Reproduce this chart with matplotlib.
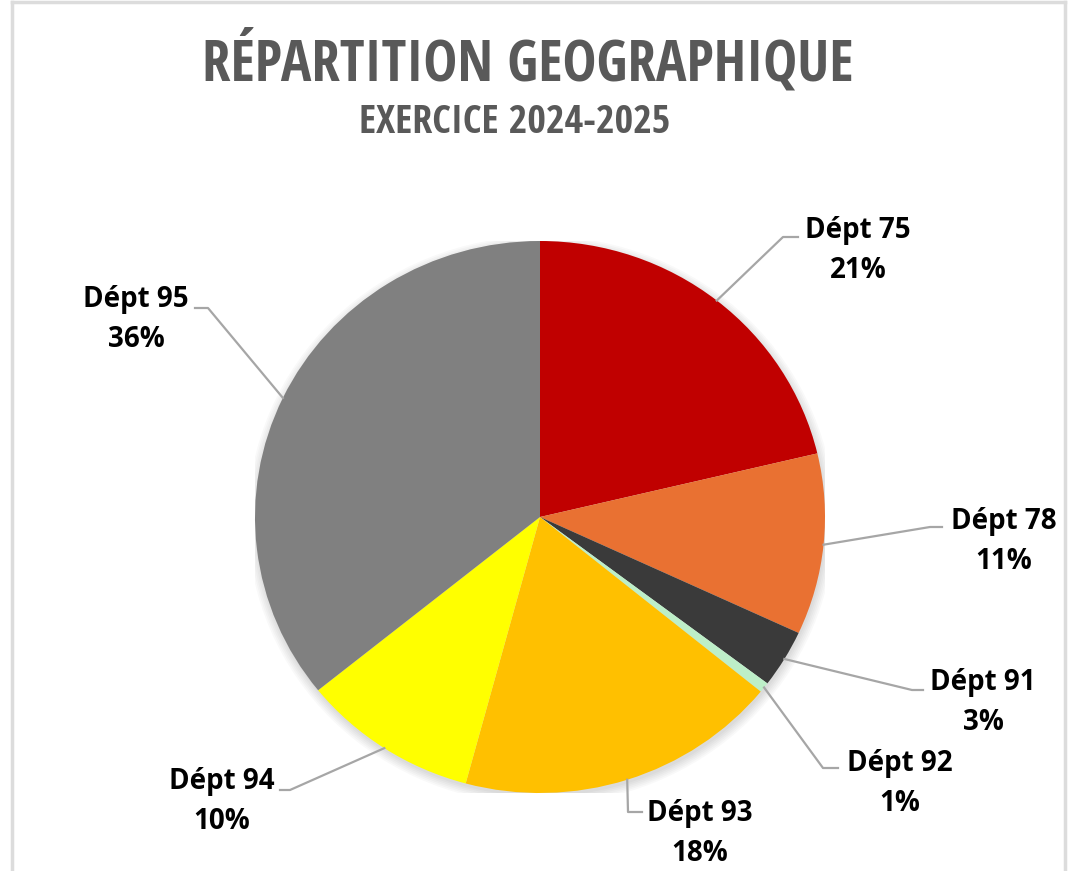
import numpy as np
import matplotlib.pyplot as plt
from matplotlib.lines import Line2D
from matplotlib.patches import Ellipse

# data
departements = ["Dépt 75", "Dépt 78", "Dépt 91", "Dépt 92", "Dépt 93", "Dépt 94", "Dépt 95"]
parts = [21.3, 10.6, 3.4, 0.6, 18.3, 10.0, 35.8]
pct_labels = ["21%", "11%", "3%", "1%", "18%", "10%", "36%"]
colors = ["#C00000", "#E97132", "#3A3A3A", "#BDEFC8", "#FFC000", "#FFFF00", "#808080"]

W, H = 1068, 871

# label layout, in image pixels: text centre x, first line cap centre y, elbow, end of leader
label_pos = [(858, 228), (1004, 519), (983, 680), (900, 761), (700, 811), (222, 779), (136, 297)]
elbows = [(783, 237), (930, 527), (912, 690), (823, 768), (628, 812), (290, 790), (208, 308)]
ends = [(798, 237), (942, 527), (923, 690), (838, 768), (642, 812), (280, 790), (195, 308)]

LABEL_FONT = ["Open Sans", "DejaVu Sans"]
TITLE_FONT = ["Open Sans Condensed", "Liberation Sans", "DejaVu Sans"]


def fx(x):
    return x / W


def fy(y):
    return 1 - y / H


fig = plt.figure(figsize=(W / 100, H / 100), dpi=100)
fig.patch.set_facecolor("white")

# pie area (slightly wider than tall, as in the screenshot)
left, right, top, bottom = 255, 825, 241, 793
ax = fig.add_axes([fx(left), fy(bottom), (right - left) / W, (bottom - top) / H])

# soft shadow under the pie
for k in range(6):
    ax.add_patch(Ellipse((0.004, -0.012), 2 + 0.012 * k, 2 + 0.012 * k,
                         facecolor="black", alpha=0.025, edgecolor="none", zorder=0))

wedges, _ = ax.pie(parts, colors=colors, startangle=90, counterclock=False,
                   wedgeprops=dict(linewidth=0))
ax.set_xlim(-1, 1)
ax.set_ylim(-1, 1)
ax.set_aspect("auto")
ax.axis("off")

to_fig = ax.transData + fig.transFigure.inverted()
for w, name, pct, (tx, ty), el, en in zip(wedges, departements, pct_labels, label_pos, elbows, ends):
    mid = np.deg2rad((w.theta1 + w.theta2) / 2)
    ax_x, ax_y = to_fig.transform((np.cos(mid), np.sin(mid)))
    fig.add_artist(Line2D([ax_x, fx(el[0]), fx(en[0])], [ax_y, fy(el[1]), fy(en[1])],
                          transform=fig.transFigure, color="#A6A6A6", lw=1.6))
    fig.text(fx(tx), fy(ty + 10), name, ha="center", va="baseline",
             fontsize=20, fontweight="bold", family=LABEL_FONT, color="black")
    fig.text(fx(tx), fy(ty + 50), pct, ha="center", va="baseline",
             fontsize=20, fontweight="bold", family=LABEL_FONT, color="black")

# titles
fig.text(fx(528), fy(80), "RÉPARTITION GEOGRAPHIQUE", ha="center", va="baseline",
         fontsize=41, fontweight="bold", family=TITLE_FONT, color="#595959")
fig.text(fx(515), fy(133), "EXERCICE 2024-2025", ha="center", va="baseline",
         fontsize=29, fontweight="bold", family=TITLE_FONT, color="#595959")

# chart border
border = "#DCDCDC"
fig.add_artist(Line2D([fx(12), fx(12)], [0, fy(2)], transform=fig.transFigure, color=border, lw=2.5))
fig.add_artist(Line2D([fx(12), fx(1065)], [fy(2), fy(2)], transform=fig.transFigure, color=border, lw=2.5))
fig.add_artist(Line2D([fx(1065), fx(1065)], [0, fy(2)], transform=fig.transFigure, color=border, lw=2.5))

fig.savefig("out.png", dpi=100, facecolor="white")
